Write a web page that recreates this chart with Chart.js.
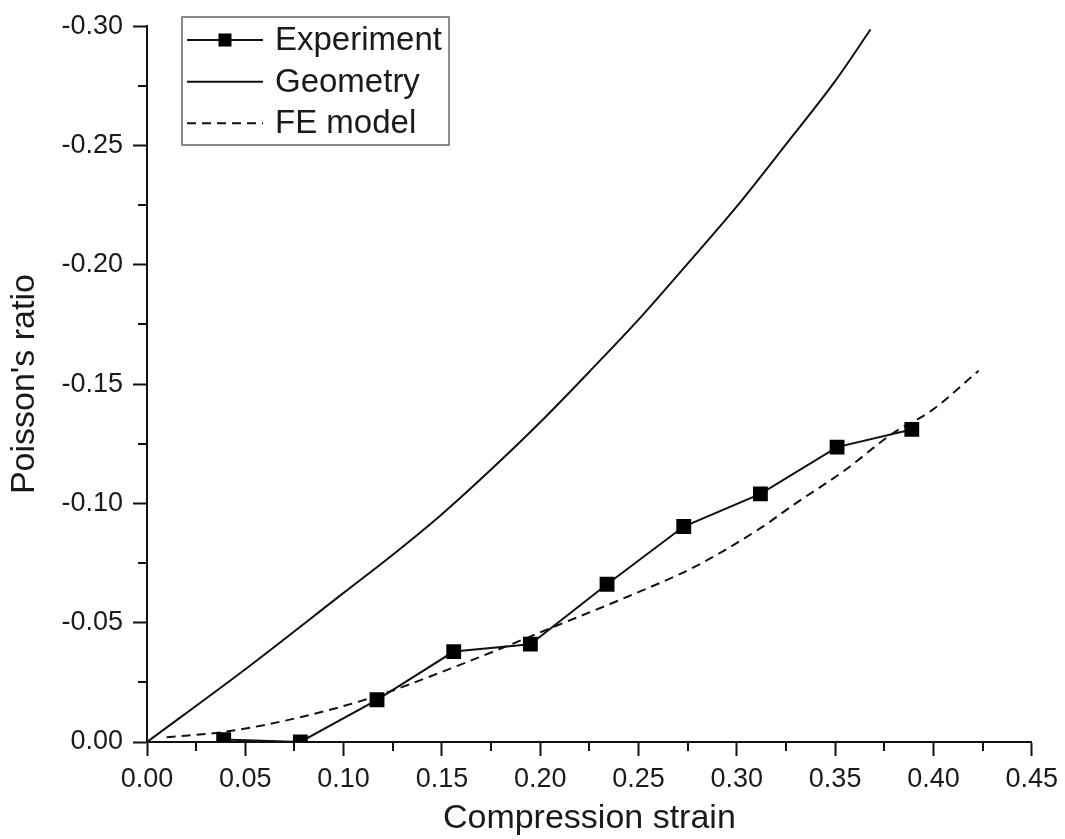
<!DOCTYPE html>
<html>
<head>
<meta charset="utf-8">
<script src="https://cdn.jsdelivr.net/npm/chart.js@4.4.0/dist/chart.umd.min.js"></script>
<style>
html,body{margin:0;padding:0;background:#fff;}
#wrap{width:1065px;height:839px;position:relative;}
canvas{display:block;}
</style>
</head>
<body>
<div id="wrap"><canvas id="c" width="1065" height="839"></canvas></div>
<script>
// ---- data ----
const seriesLabels = ['Experiment', 'Geometry', 'FE model'];

const expX = [0.039, 0.078, 0.117, 0.156, 0.195, 0.234, 0.273, 0.312, 0.351, 0.389];
const expY = [-0.001, 0.000, -0.0177, -0.0379, -0.041, -0.0661, -0.0903, -0.104, -0.1236, -0.131];

const geoX = [0.000, 0.050, 0.100, 0.125, 0.150, 0.175, 0.200, 0.225, 0.250, 0.275, 0.300, 0.325, 0.350, 0.368];
const geoY = [0.000, -0.0305, -0.0625, -0.0785, -0.0955, -0.1142, -0.134, -0.1552, -0.177, -0.2005, -0.2245, -0.2505, -0.277, -0.2986];

const feX = [0.010, 0.039, 0.078, 0.115, 0.156, 0.210, 0.245, 0.279, 0.312, 0.329, 0.355, 0.379, 0.399, 0.423];
const feY = [-0.002, -0.0042, -0.0104, -0.0188, -0.0313, -0.0493, -0.0611, -0.0736, -0.0896, -0.0995, -0.1139, -0.1292, -0.1389, -0.1556];

const xMin = 0, xMax = 0.45, xStep = 0.05;
const yMin = -0.30, yMax = 0, yStep = 0.05;
const xMinorTicks = [0.025, 0.075, 0.125, 0.175, 0.225, 0.275, 0.325, 0.375, 0.425];
const yMinorTicks = [-0.025, -0.075, -0.125, -0.175, -0.225, -0.275];

const xTitle = 'Compression strain';
const yTitle = "Poisson's ratio";

// ---- build ----
const zip = (xs, ys) => xs.map((x, i) => ({x: x, y: ys[i]}));
const FONT = "'Liberation Sans', Arial, sans-serif";
const INK = '#111';
const TXT = '#1a1a1a';

const extras = {
  id: 'extras',
  afterDraw(chart) {
    const ctx = chart.ctx;
    const xs = chart.scales.x, ys = chart.scales.y;
    ctx.save();
    ctx.strokeStyle = INK;
    ctx.lineWidth = 2;
    xMinorTicks.forEach(v => {
      const px = Math.round(xs.getPixelForValue(v));
      ctx.beginPath(); ctx.moveTo(px, xs.top); ctx.lineTo(px, xs.top + 9); ctx.stroke();
    });
    yMinorTicks.forEach(v => {
      const py = Math.round(ys.getPixelForValue(v));
      ctx.beginPath(); ctx.moveTo(ys.right - 9, py); ctx.lineTo(ys.right, py); ctx.stroke();
    });

    // legend box
    const bx = 182, by = 17, bw = 267, bh = 128;
    ctx.fillStyle = '#fff';
    ctx.fillRect(bx, by, bw, bh);
    ctx.strokeStyle = '#666';
    ctx.lineWidth = 1.5;
    ctx.strokeRect(bx, by, bw, bh);

    const rows = [40, 81.7, 123.3];
    const x0 = 187, x1 = 263, tx = 275;
    ctx.font = '33px ' + FONT;
    ctx.textBaseline = 'middle';
    ctx.textAlign = 'left';
    chart.data.datasets.forEach((ds, i) => {
      const y = rows[i];
      ctx.save();
      ctx.strokeStyle = ds.borderColor;
      ctx.lineWidth = ds.borderWidth;
      ctx.setLineDash(ds.borderDash || []);
      ctx.beginPath(); ctx.moveTo(x0, y); ctx.lineTo(x1, y); ctx.stroke();
      ctx.restore();
      if (ds.pointRadius > 0) {
        ctx.fillStyle = ds.pointBackgroundColor;
        const s = 13;
        ctx.fillRect((x0 + x1) / 2 - s / 2, y - s / 2, s, s);
      }
      ctx.fillStyle = TXT;
      ctx.fillText(ds.label, tx, y + 1);
    });
    ctx.restore();
  }
};

new Chart(document.getElementById('c'), {
  type: 'line',
  data: {
    datasets: [
      {
        label: seriesLabels[0], data: zip(expX, expY),
        borderColor: INK, borderWidth: 2, tension: 0,
        pointStyle: 'rect', pointRadius: 10.5, pointBackgroundColor: '#000', pointBorderColor: '#000', pointBorderWidth: 0,
        order: 0
      },
      {
        label: seriesLabels[1], data: zip(geoX, geoY),
        borderColor: INK, borderWidth: 2, cubicInterpolationMode: 'monotone',
        pointRadius: 0, order: 1
      },
      {
        label: seriesLabels[2], data: zip(feX, feY),
        borderColor: INK, borderWidth: 2, borderDash: [9, 6], cubicInterpolationMode: 'monotone',
        pointRadius: 0, order: 2
      }
    ]
  },
  options: {
    responsive: false,
    animation: false,
    devicePixelRatio: 1,
    layout: { padding: { left: 0, right: 8, top: 2, bottom: 0 } },
    plugins: { legend: { display: false }, tooltip: { enabled: false } },
    scales: {
      x: {
        type: 'linear', min: xMin, max: xMax,
        afterFit(s) { s.height = 97; },
        border: { display: true, color: INK, width: 2 },
        grid: { drawOnChartArea: false, drawTicks: true, tickLength: 14, tickWidth: 2, tickColor: INK },
        ticks: {
          stepSize: xStep, padding: 7, color: TXT, maxRotation: 0, autoSkip: false,
          font: { family: FONT, size: 27 },
          callback: v => Number(v).toFixed(2)
        },
        title: { display: true, text: xTitle, color: TXT, font: { family: FONT, size: 34 }, padding: { top: 0, bottom: 0 } }
      },
      y: {
        type: 'linear', min: yMin, max: yMax, reverse: true,
        afterFit(s) { s.width = 147; },
        border: { display: true, color: INK, width: 2 },
        grid: { drawOnChartArea: false, drawTicks: true, tickLength: 14, tickWidth: 2, tickColor: INK },
        ticks: {
          stepSize: yStep, padding: 10, color: TXT, autoSkip: false,
          font: { family: FONT, size: 27 },
          callback: v => Number(v).toFixed(2)
        },
        title: { display: true, text: yTitle, color: TXT, font: { family: FONT, size: 34 }, padding: { top: 4, bottom: 0 } }
      }
    }
  },
  plugins: [extras]
});
</script>
</body>
</html>
